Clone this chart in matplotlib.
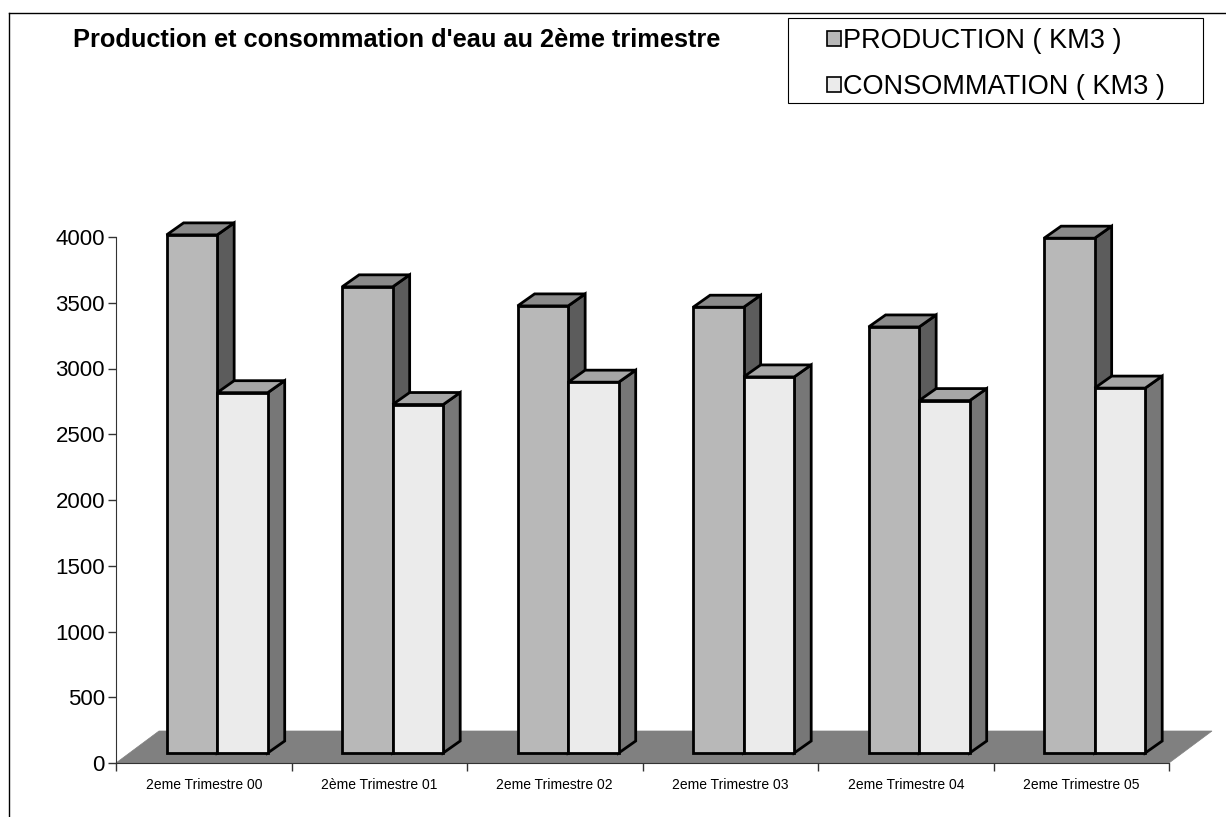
import matplotlib
matplotlib.use('Agg')
from matplotlib import pyplot as plt
from matplotlib.patches import Polygon, Patch, Rectangle
from matplotlib.lines import Line2D

plt.rcParams['font.family'] = ['Liberation Sans', 'DejaVu Sans']

categories = ['2eme Trimestre 00', '2ème Trimestre 01', '2eme Trimestre 02',
              '2eme Trimestre 03', '2eme Trimestre 04', '2eme Trimestre 05']
production = [3940, 3545, 3400, 3390, 3240, 3915]
consommation = [2740, 2650, 2820, 2860, 2680, 2775]
yticks = [0, 500, 1000, 1500, 2000, 2500, 3000, 3500, 4000]

W, H = 1226, 817
fig = plt.figure(figsize=(W / 100, H / 100), dpi=100)

# axes placed in pixels
ax_l, ax_r, ax_t, ax_b = 116, 1169, 237, 763
ax = fig.add_axes([ax_l / W, 1 - ax_b / H, (ax_r - ax_l) / W, (ax_b - ax_t) / H])
ax.set_xlim(0, len(categories))
ax.set_ylim(0, 4000)

# pixel -> data conversions
px_x = (ax_r - ax_l) / len(categories)
px_y = (ax_b - ax_t) / 4000.0
def ux(p): return p / px_x
def uy(p): return p / px_y

# floor
floor = Polygon([(0, 0), (len(categories), 0),
                 (len(categories) + ux(43), uy(32)), (ux(43), uy(32))],
                closed=True, facecolor='#808080', edgecolor='#808080', lw=0.5,
                clip_on=False, zorder=1)
ax.add_patch(floor)

bar_w = 0.288
fdx, fdy = ux(13.4), uy(10)
ddx, ddy = ux(17), uy(12)

def bar3d(x0, v, front, side, top):
    b = fdy
    t = v + fdy
    x0 = x0 + fdx
    x1 = x0 + bar_w
    kw = dict(closed=True, edgecolor='black', lw=2.0, joinstyle='miter',
              clip_on=False, zorder=3)
    ax.add_patch(Polygon([(x1, b), (x1 + ddx, b + ddy), (x1 + ddx, t + ddy), (x1, t)],
                         facecolor=side, **kw))
    ax.add_patch(Polygon([(x0, t), (x1, t), (x1 + ddx, t + ddy), (x0 + ddx, t + ddy)],
                         facecolor=top, **kw))
    ax.add_patch(Polygon([(x0, b), (x1, b), (x1, t), (x0, t)],
                         facecolor=front, **kw))

for i in range(len(categories)):
    c = i + 0.5
    bar3d(c - bar_w, production[i], '#b8b8b8', '#5c5c5c', '#8a8a8a')
    bar3d(c, consommation[i], '#ebebeb', '#777777', '#a6a6a6')

# axes styling
for s in ['top', 'right']:
    ax.spines[s].set_visible(False)
ax.spines['left'].set_color('#333333')
ax.spines['bottom'].set_color('#333333')
ax.set_yticks(yticks)
ax.set_yticklabels([str(v) for v in yticks], fontsize=16)
ax.tick_params(axis='y', length=6, width=1, pad=2, color='#333333')
ax.set_xticks(range(len(categories) + 1))
ax.set_xticklabels([])
ax.tick_params(axis='x', which='major', length=6, width=1, color='#333333')
ax.set_xticks([i + 0.5 for i in range(len(categories))], minor=True)
ax.set_xticklabels(categories, minor=True, fontsize=10)
ax.tick_params(axis='x', which='minor', length=0, pad=11)

# title
fig.text(73 / W, 1 - 40 / H, "Production et consommation d'eau au 2ème trimestre",
         fontsize=18.3, fontweight='bold', ha='left', va='center')

# legend: frame drawn separately, entries placed inside
fig.add_artist(Rectangle((788 / W, 1 - 103 / H), (1203 - 788) / W, 85 / H,
                         transform=fig.transFigure, facecolor='white',
                         edgecolor='black', lw=0.8))
handles = [Patch(facecolor='#b8b8b8', edgecolor='black', lw=1.2, label='PRODUCTION ( KM3 )'),
           Patch(facecolor='#ebebeb', edgecolor='black', lw=1.2, label='CONSOMMATION ( KM3 )')]
fig.legend(handles=handles, loc='upper left', bbox_to_anchor=(827 / W, 1 - 28 / H),
           fontsize=19.5, frameon=False, borderaxespad=0, borderpad=0,
           handlelength=0.5, handleheight=0.5, handletextpad=0.1,
           labelspacing=0.75)

# outer frame (top and left only)
fig.add_artist(Line2D([9 / W, 1], [1 - 13 / H, 1 - 13 / H], color='black', lw=1))
fig.add_artist(Line2D([9 / W, 9 / W], [0, 1 - 13 / H], color='black', lw=1))

fig.savefig('out.png', dpi=100)
